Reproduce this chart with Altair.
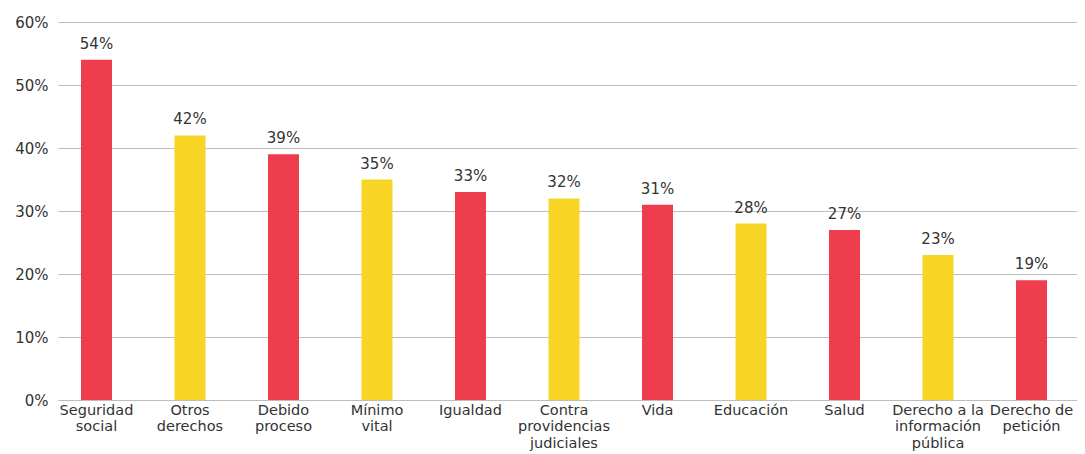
import altair as alt
import pandas as pd

categories = ["Seguridad social", "Otros derechos", "Debido proceso", "Mínimo vital",
              "Igualdad", "Contra providencias judiciales", "Vida", "Educación",
              "Salud", "Derecho a la información pública", "Derecho de petición"]
label_lines = ["Seguridad|social", "Otros|derechos", "Debido|proceso", "Mínimo|vital",
               "Igualdad", "Contra|providencias|judiciales", "Vida", "Educación",
               "Salud", "Derecho a la|información|pública", "Derecho de|petición"]
values = [54, 42, 39, 35, 33, 32, 31, 28, 27, 23, 19]
groups = ["a", "b", "a", "b", "a", "b", "a", "b", "a", "b", "a"]

df = pd.DataFrame({"cat": categories, "lbl": label_lines, "val": [v / 100 for v in values], "grp": groups})

FONT = "DejaVu Sans"
label_map = "{" + ",".join(f"'{c}':'{l}'" for c, l in zip(categories, label_lines)) + "}"

x = alt.X("cat:N", sort=categories, title=None,
          scale=alt.Scale(paddingInner=0.668, paddingOuter=0.283, align=0.434),
          axis=alt.Axis(labelAngle=0, domain=False, ticks=False, labelFontSize=14.5,
                        labelColor="#333333", labelFont=FONT, labelPadding=3,
                        labelLineHeight=16.5, labelBaseline="top",
                        labelExpr="split(" + label_map + "[datum.label], '|')"))
y = alt.Y("val:Q", title=None,
          scale=alt.Scale(domain=[0, 0.6], nice=False),
          axis=alt.Axis(format="%", values=[0, 0.1, 0.2, 0.3, 0.4, 0.5, 0.6], domain=False,
                        ticks=False, labelPadding=10, labelFontSize=15, labelColor="#333333",
                        labelFont=FONT, gridColor="#bdbdbd", gridWidth=1.2))

base = alt.Chart(df)
bars = base.mark_bar(size=31).encode(
    x=x, y=y,
    color=alt.Color("grp:N", scale=alt.Scale(domain=["a", "b"], range=["#EE3D4D", "#F8D525"]), legend=None))
text = base.mark_text(baseline="bottom", dy=-8, fontSize=15, color="#333333", font=FONT).encode(
    x=alt.X("cat:N", sort=categories), y="val:Q", text=alt.Text("val:Q", format=".0%"))

chart = (bars + text).properties(
    width=1019, height=378,
    autosize=alt.AutoSizeParams(type="none"),
    padding={"left": 50, "top": 14, "right": 0, "bottom": 54},
).configure_view(stroke=None)

chart.save("out.html", embed_options={"renderer": "svg", "actions": False})
